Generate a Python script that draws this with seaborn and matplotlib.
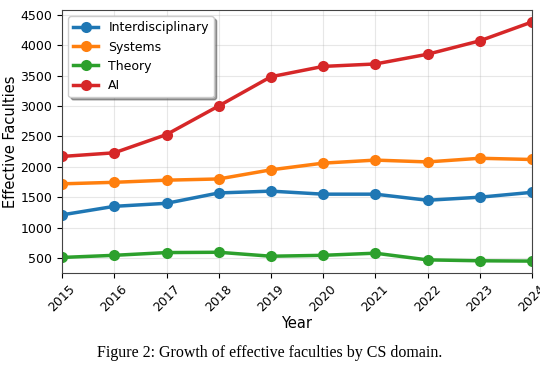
import pandas as pd
import numpy as np
import matplotlib
matplotlib.use("Agg")
import matplotlib.pyplot as plt
import seaborn as sns

years = [2015, 2016, 2017, 2018, 2019, 2020, 2021, 2022, 2023, 2024]
interdisciplinary = [1210, 1350, 1400, 1570, 1600, 1550, 1550, 1450, 1500, 1580]
systems = [1720, 1745, 1780, 1800, 1950, 2060, 2110, 2080, 2140, 2120]
theory = [510, 545, 590, 595, 530, 545, 580, 470, 455, 450]
ai = [2170, 2230, 2530, 3000, 3480, 3650, 3690, 3850, 4070, 4380]

domains = ["Interdisciplinary", "Systems", "Theory", "AI"]
colors = ["#1f77b4", "#ff7f0e", "#2ca02c", "#d62728"]

df = pd.DataFrame({
    "Year": years * 4,
    "Faculties": interdisciplinary + systems + theory + ai,
    "Domain": np.repeat(domains, len(years)),
})

fig = plt.figure(figsize=(5.4, 3.72), dpi=100)
ax = fig.add_axes([0.115, 0.266, 0.87, 0.707])

sns.lineplot(
    data=df, x="Year", y="Faculties", hue="Domain", hue_order=domains,
    palette=colors, marker="o", markersize=8, markeredgewidth=0,
    linewidth=2.5, ax=ax,
)

ax.set_xlim(2015, 2024)
ax.set_xticks(years)
ax.set_xticklabels([str(y) for y in years], rotation=45, fontsize=9)
ax.tick_params(axis="y", labelsize=9)
ax.set_xlabel("Year", fontsize=10.5, labelpad=1)
ax.set_ylabel("Effective Faculties", fontsize=10.5, labelpad=2)
ax.grid(True, alpha=0.3)
for s in ax.spines.values():
    s.set_color("#444444")

ax.legend(loc="upper left", fontsize=9, shadow=True, framealpha=1,
          edgecolor="#cccccc")

fig.text(0.5, 0.05, "Figure 2: Growth of effective faculties by CS domain.",
         ha="center", va="center", fontsize=11.5, family="Liberation Serif")

fig.savefig("out.png", dpi=100)
